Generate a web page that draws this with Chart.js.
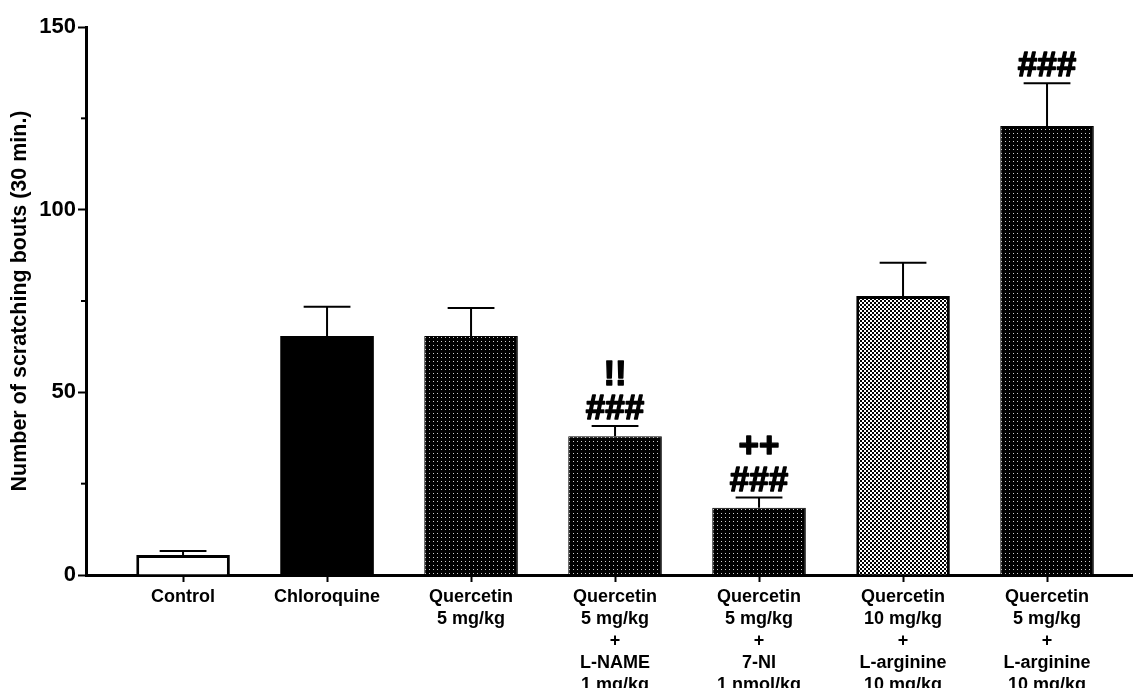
<!DOCTYPE html>
<html>
<head>
<meta charset="utf-8">
<script src="https://cdn.jsdelivr.net/npm/chart.js@4.4.1/dist/chart.umd.min.js"></script>
<style>
  html, body { margin: 0; padding: 0; background: #fff; }
  canvas { display: block; }
</style>
</head>
<body>
<canvas id="chart" width="1133" height="688"></canvas>
<script>
// Treatment groups (multi-line axis labels)
const groups = [
  ['Control'],
  ['Chloroquine'],
  ['Quercetin', '5 mg/kg'],
  ['Quercetin', '5 mg/kg', '+', 'L-NAME', '1 mg/kg'],
  ['Quercetin', '5 mg/kg', '+', '7-NI', '1 nmol/kg'],
  ['Quercetin', '10 mg/kg', '+', 'L-arginine', '10 mg/kg'],
  ['Quercetin', '5 mg/kg', '+', 'L-arginine', '10 mg/kg']
];

// Mean number of scratching bouts in 30 min and SEM
const meanBouts = [5.5, 65.4, 65.4, 38.0, 18.4, 76.4, 122.9];
const semBouts  = [1.1, 8.0, 7.7, 2.8, 2.8, 9.1, 11.7];

// Significance marks: first row sits on the error bar, second row above it
const sigFirst  = ['', '', '', '###', '###', '', '###'];
const sigSecond = ['', '', '', '!!', '++', '', ''];

// Y axis ticks
const yMajorTicks = [0, 50, 100, 150];
const yMinorTicks = [25, 75, 125];

const FONT = '"Liberation Sans", Arial, Helvetica, sans-serif';

// Fill patterns
function dotPattern() {
  const c = document.createElement('canvas');
  c.width = 4; c.height = 4;
  const g = c.getContext('2d');
  g.fillStyle = '#000';
  g.fillRect(0, 0, 4, 4);
  g.fillStyle = '#cfcfcf';
  g.fillRect(1, 1, 1, 1);
  return g.createPattern(c, 'repeat');
}
function checkerPattern() {
  const c = document.createElement('canvas');
  c.width = 4; c.height = 4;
  const g = c.getContext('2d');
  g.fillStyle = '#fff';
  g.fillRect(0, 0, 4, 4);
  g.fillStyle = '#000';
  g.fillRect(0, 0, 2, 2);
  g.fillRect(2, 2, 2, 2);
  return g.createPattern(c, 'repeat');
}
const dots = dotPattern();
const checker = checkerPattern();
const barFills   = ['#fff', '#000', dots, dots, dots, checker, dots];
const barBorders = [3, 0, 1, 1, 1, 3, 1];

// Error bars, minor y ticks and significance marks
const extrasPlugin = {
  id: 'extras',
  afterDatasetsDraw(chart) {
    const ctx = chart.ctx;
    const y = chart.scales.y;
    const meta = chart.getDatasetMeta(0);
    ctx.save();
    ctx.strokeStyle = '#000';
    ctx.fillStyle = '#000';
    meta.data.forEach((bar, i) => {
      const top = y.getPixelForValue(meanBouts[i]);
      const cap = y.getPixelForValue(meanBouts[i] + semBouts[i]);
      const half = bar.width / 4;
      ctx.lineWidth = 2;
      ctx.beginPath();
      ctx.moveTo(bar.x, top);
      ctx.lineTo(bar.x, cap);
      ctx.moveTo(bar.x - half, cap);
      ctx.lineTo(bar.x + half, cap);
      ctx.stroke();

      ctx.font = 'bold 35px ' + FONT;
      ctx.textAlign = 'center';
      ctx.textBaseline = 'alphabetic';
      ctx.lineWidth = 1.4;
      ctx.lineJoin = 'round';
      const marks = [[sigFirst[i], cap - 7], [sigSecond[i], cap - 7 - 34]];
      marks.forEach(([txt, py]) => {
        if (!txt) return;
        ctx.fillText(txt, bar.x, py);
        ctx.strokeText(txt, bar.x, py);
      });
    });
    ctx.restore();
  },
  afterDraw(chart) {
    const ctx = chart.ctx;
    const y = chart.scales.y;
    const x0 = chart.chartArea.left;
    ctx.save();
    ctx.strokeStyle = '#000';
    ctx.lineWidth = 2;
    yMinorTicks.forEach(v => {
      const py = y.getPixelForValue(v);
      ctx.beginPath();
      ctx.moveTo(x0 - 5, py);
      ctx.lineTo(x0, py);
      ctx.stroke();
    });
    ctx.restore();
  }
};

new Chart(document.getElementById('chart'), {
  type: 'bar',
  data: {
    datasets: [{
      data: meanBouts.map((v, i) => ({ x: i, y: v })),
      backgroundColor: barFills,
      borderColor: '#000',
      borderWidth: barBorders,
      categoryPercentage: 1,
      barPercentage: 0.65
    }]
  },
  options: {
    responsive: false,
    devicePixelRatio: 1,
    animation: false,
    layout: { padding: { top: 27, left: 0, right: 0, bottom: 0 } },
    plugins: { legend: { display: false }, tooltip: { enabled: false } },
    scales: {
      x: {
        type: 'linear',
        offset: false,
        min: -0.674,
        max: 6.597,
        z: 1,
        afterBuildTicks: s => { s.ticks = groups.map((_, i) => ({ value: i })); },
        afterFit: s => { s.height = 113; },
        ticks: {
          autoSkip: false,
          maxRotation: 0,
          padding: 4,
          color: '#000',
          font: { family: FONT, weight: 'bold', size: 18, lineHeight: 1.22 },
          callback: v => groups[v]
        },
        grid: { offset: false, drawOnChartArea: false, tickLength: 7, tickWidth: 2, tickColor: '#000' },
        border: { display: true, color: '#000', width: 3 }
      },
      y: {
        min: 0,
        max: 150,
        z: 1,
        afterBuildTicks: s => { s.ticks = yMajorTicks.map(v => ({ value: v })); },
        afterFit: s => { s.width = 86; },
        ticks: {
          padding: 2,
          color: '#000',
          font: { family: FONT, weight: 'bold', size: 22 },
          callback: v => String(v)
        },
        grid: { drawOnChartArea: false, tickLength: 8, tickWidth: 2, tickColor: '#000' },
        border: { display: true, color: '#000', width: 3 },
        title: {
          display: true,
          text: 'Number of scratching bouts (30 min.)',
          color: '#000',
          font: { family: FONT, weight: 'bold', size: 21.5 },
          padding: { top: 7, bottom: 0 }
        }
      }
    }
  },
  plugins: [extrasPlugin]
});
</script>
</body>
</html>
